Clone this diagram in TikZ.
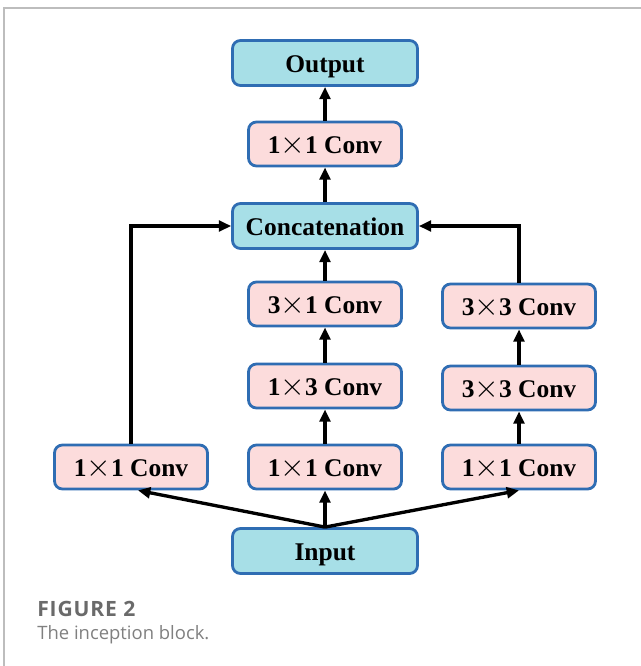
\documentclass[tikz,border=0pt]{standalone}
\usepackage{fontspec}
\setmainfont{Liberation Serif}
\newfontfamily\capfont{Open Sans}
\usetikzlibrary{arrows.meta,positioning}
\definecolor{iocyan}{HTML}{A7DFE7}
\definecolor{convpink}{HTML}{FCDCDC}
\definecolor{boxblue}{HTML}{2F6DB3}
\definecolor{framegray}{HTML}{BDBDBD}
\definecolor{capgray}{HTML}{6A6A6A}
\newcommand{\crs}{\scalebox{1.25}{$\times$}}

\tikzset{
  block/.style={draw=boxblue, line width=1.6pt, rounded corners=4.5pt,
    font=\fontsize{14.5}{16}\selectfont\bfseries, inner sep=0pt,
    text height=10.4pt, text depth=0pt},
  ioblock/.style={block, fill=iocyan, minimum width=3.7cm, minimum height=0.9cm},
  convblock/.style={block, fill=convpink, minimum width=3.06cm, minimum height=0.88cm},
  flow/.style={->, line width=1.9pt}
}

\begin{document}
\begin{tikzpicture}[x=0.02cm, y=-0.02cm, >={Triangle[length=7pt, width=6.2pt]}]
  \useasboundingbox (0,0) rectangle (641,666);
  % page frame
  \draw[framegray, line width=0.9pt] (4,666) -- (4,8) -- (641,8);
  % main column
  \node[ioblock]   (out)    at (325,63)  {Output};
  \node[convblock] (cfin)   at (325,144) {1\crs1 Conv};
  \node[ioblock]   (concat) at (325,226) {Concatenation};
  \node[convblock] (mthree) at (325,304) {3\crs1 Conv};
  \node[convblock] (mtwo)   at (325,386) {1\crs3 Conv};
  \node[convblock] (mone)   at (325,467) {1\crs1 Conv};
  \node[ioblock]   (in)     at (325,551) {Input};
  % side branches
  \node[convblock] (lone)   at (131,467) {1\crs1 Conv};
  \node[convblock] (rone)   at (519,467) {1\crs1 Conv};
  \node[convblock] (rtwo)   at (519,388) {3\crs3 Conv};
  \node[convblock] (rthree) at (519,306) {3\crs3 Conv};
  % connectors
  \foreach \a/\b in {in/mone,mone/mtwo,mtwo/mthree,mthree/concat,concat/cfin,cfin/out,rone/rtwo,rtwo/rthree}
    \draw[flow] (\a.north) -- (\b.south);
  \draw[flow] (in.north) -- ([xshift=4pt]lone.south);
  \draw[flow] (in.north) -- (rone.south);
  \draw[flow] (lone.north) |- (concat.west);
  \draw[flow] (rthree.north) |- (concat.east);
  % caption
  \node[anchor=base west, inner sep=0pt, text=capgray,
    font=\capfont\fontsize{12}{14}\selectfont\bfseries\addfontfeatures{LetterSpace=4}]
    (fig) at (37,616) {FIGURE 2};
  \node[anchor=base west, inner sep=0pt, text=capgray!85,
    font=\capfont\fontsize{10.5}{12}\selectfont]
    (figtxt) at (37,639) {The inception block.};
\end{tikzpicture}
\end{document}
